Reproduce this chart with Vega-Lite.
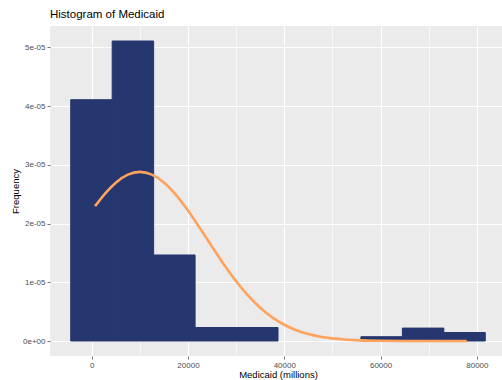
{
  "$schema": "https://vega.github.io/schema/vega-lite/v6.json",
  "width": 456,
  "height": 330,
  "autosize": {"type": "none"},
  "padding": {"left": 50, "top": 26, "right": 0, "bottom": 24},
  "background": "white",
  "title": {"text": "Histogram of Medicaid", "anchor": "start", "frame": "group", "font": "Liberation Sans", "fontSize": 11.5, "fontWeight": "normal", "color": "black", "offset": 6},
  "config": {
    "view": {"fill": "#EBEBEB", "stroke": null},
    "axis": {
      "domain": false,
      "labelFont": "Liberation Sans",
      "labelFontSize": 8,
      "labelColor": "#4D4D4D",
      "titleFont": "Liberation Sans",
      "titleFontSize": 9.5,
      "titleFontWeight": "normal",
      "titleColor": "black",
      "tickColor": "#333333",
      "tickSize": 3,
      "tickWidth": 0.7,
      "gridColor": "white"
    }
  },
  "layer": [
    {
      "data": {"values": [
        {"bin_start": -4357, "bin_end": 4253, "density": 4.11e-5},
        {"bin_start": 4253, "bin_end": 12863, "density": 5.11e-5},
        {"bin_start": 12863, "bin_end": 21473, "density": 1.465e-5},
        {"bin_start": 21473, "bin_end": 30083, "density": 2.3e-6},
        {"bin_start": 30083, "bin_end": 38693, "density": 2.3e-6},
        {"bin_start": 55913, "bin_end": 64523, "density": 7.3e-7},
        {"bin_start": 64523, "bin_end": 73133, "density": 2.2e-6},
        {"bin_start": 73133, "bin_end": 81743, "density": 1.45e-6}
      ]},
      "mark": {"type": "rect", "color": "#26366F", "stroke": "#26366F", "strokeWidth": 1},
      "encoding": {
        "x": {
          "field": "bin_start", "type": "quantitative",
          "scale": {"domain": [-8662, 86048], "nice": false, "zero": false},
          "axis": {
            "title": "Medicaid (millions)",
            "values": [0, 10000, 20000, 30000, 40000, 50000, 60000, 70000, 80000],
            "labelExpr": "datum.value % 20000 === 0 ? format(datum.value, 'd') : ''",
            "labelPadding": 2,
            "titlePadding": 0,
            "gridWidth": {"condition": {"test": "datum.value % 20000 === 0", "value": 1.2}, "value": 0.6},
            "tickOpacity": {"condition": {"test": "datum.value % 20000 === 0", "value": 1}, "value": 0}
          }
        },
        "x2": {"field": "bin_end"},
        "y": {
          "field": "density", "type": "quantitative",
          "scale": {"domain": [-2.555e-6, 5.3655e-5], "nice": false, "zero": false},
          "axis": {
            "title": "Frequency",
            "values": [0, 0.000005, 0.00001, 0.000015, 0.00002, 0.000025, 0.00003, 0.000035, 0.00004, 0.000045, 0.00005],
            "labelExpr": "datum.value == 0 ? '0e+00' : (round(datum.value * 1e6) % 10 == 0 ? round(datum.value * 1e5) + 'e-05' : '')",
            "labelPadding": 2,
            "titlePadding": 2,
            "gridWidth": {"condition": {"test": "round(datum.value * 1e6) % 10 == 0", "value": 1.2}, "value": 0.6},
            "tickOpacity": {"condition": {"test": "round(datum.value * 1e6) % 10 == 0", "value": 1}, "value": 0}
          }
        },
        "y2": {"datum": 0}
      }
    },
    {
      "data": {"values": [
        {"medicaid": 700, "density": 2.297e-5},
        {"medicaid": 3000, "density": 2.533e-5},
        {"medicaid": 5000, "density": 2.697e-5},
        {"medicaid": 7500, "density": 2.833e-5},
        {"medicaid": 10000, "density": 2.88e-5},
        {"medicaid": 12500, "density": 2.834e-5},
        {"medicaid": 15000, "density": 2.7e-5},
        {"medicaid": 17500, "density": 2.489e-5},
        {"medicaid": 20000, "density": 2.222e-5},
        {"medicaid": 22500, "density": 1.919e-5},
        {"medicaid": 25000, "density": 1.605e-5},
        {"medicaid": 27500, "density": 1.299e-5},
        {"medicaid": 30000, "density": 1.018e-5},
        {"medicaid": 32500, "density": 7.72e-6},
        {"medicaid": 35000, "density": 5.67e-6},
        {"medicaid": 37500, "density": 4.03e-6},
        {"medicaid": 40000, "density": 2.77e-6},
        {"medicaid": 42500, "density": 1.84e-6},
        {"medicaid": 45000, "density": 1.19e-6},
        {"medicaid": 47500, "density": 7.4e-7},
        {"medicaid": 50000, "density": 4.5e-7},
        {"medicaid": 52500, "density": 2.6e-7},
        {"medicaid": 55000, "density": 1.5e-7},
        {"medicaid": 60000, "density": 4e-8},
        {"medicaid": 65000, "density": 1e-8},
        {"medicaid": 70000, "density": 0},
        {"medicaid": 77900, "density": 0}
      ]},
      "mark": {"type": "line", "color": "#FFA35C", "strokeWidth": 2.6, "interpolate": "monotone"},
      "encoding": {
        "x": {"field": "medicaid", "type": "quantitative"},
        "y": {"field": "density", "type": "quantitative"}
      }
    }
  ]
}
